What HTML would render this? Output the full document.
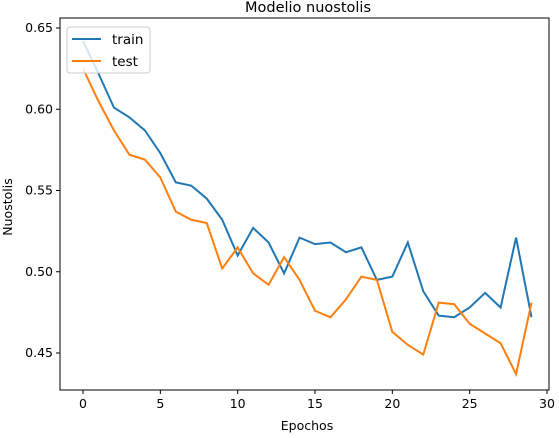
<!DOCTYPE html>
<html><head><meta charset="utf-8"><style>body{margin:0;background:#fff}svg{font-family:"DejaVu Sans","Liberation Sans",sans-serif}</style></head>
<body>
<svg id="c" width="559" height="433"></svg>
<script>
const epochs=[...Array(30).keys()];
const trainVals=[0.642,0.622,0.601,0.595,0.587,0.573,0.555,0.553,0.545,0.532,0.510,0.527,0.518,0.499,0.521,0.517,0.518,0.512,0.515,0.495,0.497,0.518,0.488,0.473,0.472,0.478,0.487,0.478,0.521,0.472];
const testVals=[0.625,0.605,0.587,0.572,0.569,0.558,0.537,0.532,0.530,0.502,0.515,0.499,0.492,0.509,0.495,0.476,0.472,0.483,0.497,0.495,0.463,0.455,0.449,0.481,0.480,0.468,0.462,0.456,0.437,0.481];
const xTicks=[0,5,10,15,20,25,30];
const yTicks=[0.45,0.50,0.55,0.60,0.65];
const L=60,R=549,T=18,B=390;
const X=v=>83+v*(547-83)/30;
const Y=v=>28+(0.65-v)*(353-28)/0.2;
const svg=document.getElementById('c');const NS='http://www.w3.org/2000/svg';
function mk(t,a,txt){const e=document.createElementNS(NS,t);for(const k in a)e.setAttribute(k,a[k]);if(txt!=null)e.textContent=txt;svg.appendChild(e);return e;}
let e;
e=mk('rect',{x:L,y:T,width:R-L,height:B-T,fill:'none',stroke:'#000','stroke-width':1});


xTicks.forEach(t=>{
e=mk('line',{x1:X(t),x2:X(t),y1:B,y2:B+4,stroke:'#000'});


e=mk('text',{x:X(t),y:B+18,'text-anchor':'middle','font-size':12.5},t);


});
yTicks.forEach(t=>{
e=mk('line',{x1:L-4,x2:L,y1:Y(t),y2:Y(t),stroke:'#000'});


e=mk('text',{x:L-7,y:Y(t)+4,'text-anchor':'end','font-size':12.5},t.toFixed(2));


});
function line(vals,col,name){
e=mk('polyline',{points:vals.map((v,i)=>X(epochs[i])+','+Y(v)).join(' '),fill:'none',stroke:col,'stroke-width':2});


}
line(trainVals,'#1f77b4','train-line');
line(testVals,'#ff7f0e','test-line');
e=mk('text',{x:308,y:12,'text-anchor':'middle','font-size':14.5},'Modelio nuostolis');


e=mk('text',{x:307,y:430,'text-anchor':'middle','font-size':12.5},'Epochos');


e=mk('text',{x:12,y:207,'text-anchor':'middle','font-size':12.5,transform:'rotate(-90 12 207)'},'Nuostolis');


e=mk('rect',{x:67,y:27,width:83,height:46,rx:3,fill:'#fff','fill-opacity':0.8,stroke:'#ccc'});


[['train','#1f77b4',39],['test','#ff7f0e',61]].forEach(([n,c,y])=>{
e=mk('line',{x1:72,x2:101,y1:y,y2:y,stroke:c,'stroke-width':2});


e=mk('text',{x:112,y:y+5,'font-size':13.5},n);


});
</script>
</body></html>
